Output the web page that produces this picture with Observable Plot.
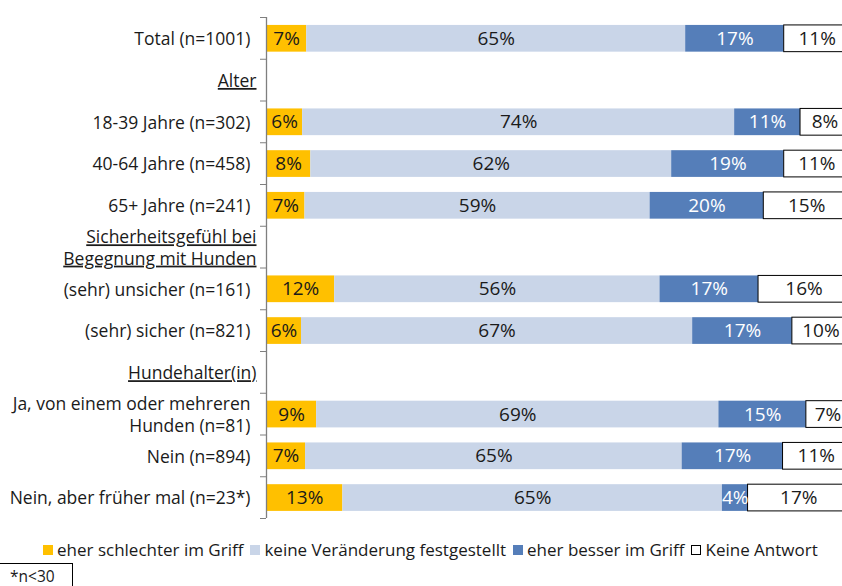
<!DOCTYPE html>
<html><head><meta charset="utf-8">
<script src="https://cdn.jsdelivr.net/npm/d3@7"></script>
<script src="https://cdn.jsdelivr.net/npm/@observablehq/plot@0.6"></script>
<style>
body{margin:0;background:#fff;font-family:"Open Sans",sans-serif;width:842px;height:586px;overflow:hidden;position:relative;color:#1a1a1a}
#chart{position:absolute;left:0;top:0}
#legend{position:absolute;left:43px;top:539px;display:flex;align-items:center;font-size:17px;white-space:nowrap;line-height:22px}
.item{display:flex;align-items:center;margin-right:7px}
.sw{display:inline-block;width:10px;height:10px;margin-right:4px;box-sizing:border-box}
#note{position:absolute;left:-1px;top:563px;width:62px;height:30px;border:1px solid #000;padding-left:10px;font-size:15.5px;line-height:24px}
</style>
</head><body>
<div id="chart"></div>
<div id="legend"></div>
<div id="note">*n&lt;30</div>
<script>
const categories = [
  "Total (n=1001)", "Alter", "18-39 Jahre (n=302)", "40-64 Jahre (n=458)", "65+ Jahre (n=241)",
  "Sicherheitsgefühl bei\nBegegnung mit Hunden", "(sehr) unsicher (n=161)", "(sehr) sicher (n=821)",
  "Hundehalter(in)", "Ja, von einem oder mehreren\nHunden (n=81)", "Nein (n=894)", "Nein, aber früher mal (n=23*)"
];
const headers = ["Alter", "Sicherheitsgefühl bei\nBegegnung mit Hunden", "Hundehalter(in)"];
const series = ["eher schlechter im Griff", "keine Veränderung festgestellt", "eher besser im Griff", "Keine Antwort"];
const colors = ["#FFC000", "#C9D5E8", "#557EB9", "#FFFFFF"];
const schlechter   = [6.9, null, 6.2, 7.6, 6.6, null, 11.7, 6.0, null, 8.6, 6.7, 13.1];
const keine        = [65.0, null, 74.1, 61.9, 59.2, null, 55.8, 67.1, null, 69.0, 64.6, 65.1];
const besser       = [16.9, null, 11.3, 19.3, 19.5, null, 16.9, 17.1, null, 15.0, 17.3, 4.4];
const keineAntwort = [11.3, null, 8.4, 11.2, 14.7, null, 15.6, 9.8, null, 7.4, 11.4, 17.4];

const valueLists = [schlechter, keine, besser, keineAntwort];
const table = [];
categories.forEach((c, i) => {
  let acc = 0;
  valueLists.forEach((vals, s) => {
    const v = vals[i];
    if (v == null) return;
    table.push({cat: c, i, series: series[s], value: v, x1: acc, x2: acc + v});
    acc += v;
  });
});
const rows = categories.map((c, i) => ({cat: c, i, header: headers.includes(c)}));

const plot = Plot.plot({
  width: 842, height: 530,
  marginLeft: 266, marginRight: 0, marginTop: 17, marginBottom: 12,
  x: {domain: [0, 100], range: [266, 849], axis: null},
  y: {domain: [0, 12], range: [17, 518]},
  color: {domain: series, range: colors},
  style: {fontFamily: "Open Sans", fontSize: "17.5px", color: "#1a1a1a", background: "transparent"},
  marks: [
    Plot.rect(table, {x1: "x1", x2: "x2", y1: d => d.i + 0.19, y2: d => d.i + 0.83, fill: "series"}),
    Plot.rect(table, {filter: d => d.series === series[3], x1: "x1", x2: "x2", y1: d => d.i + 0.19, y2: d => d.i + 0.83, fill: "none", stroke: "#000", strokeWidth: 1}),
    Plot.text(table, {filter: d => d.series !== series[2], x: d => (d.x1 + d.x2) / 2, y: d => d.i + 0.51, text: d => Math.round(d.value) + "%", fill: "#1a1a1a", fontSize: 19}),
    Plot.text(table, {filter: d => d.series === series[2], x: d => (d.x1 + d.x2) / 2, y: d => d.i + 0.51, text: d => Math.round(d.value) + "%", fill: "#ffffff", fontSize: 19}),
    Plot.ruleX([0], {stroke: "#7f7f7f", strokeWidth: 1.3}),
    Plot.axisY({ticks: d3.range(13), tickFormat: () => "", tickSize: 6, stroke: "#7f7f7f", strokeOpacity: 1}),
    Plot.text(rows, {filter: d => !d.header, frameAnchor: "left", y: d => d.i + 0.5, text: "cat", textAnchor: "end", dx: -16, lineHeight: 1.22, fill: "#1a1a1a"}),
    Plot.text(rows, {filter: d => d.header, frameAnchor: "left", y: d => d.i + 0.5, text: "cat", textAnchor: "end", dx: -10, lineHeight: 1.22, fill: "#1a1a1a"})
  ]
});
const headerFlat = new Set(headers.map(h => h.replace("\n", "")));
d3.select(plot).selectAll("text").each(function() {
  if (headerFlat.has(this.textContent)) this.style.textDecoration = "underline";
});
document.getElementById("chart").appendChild(plot);

const legend = document.getElementById("legend");
series.forEach((s, k) => {
  const item = document.createElement("div");
  item.className = "item";
  const sw = document.createElement("span");
  sw.className = "sw";
  sw.style.background = colors[k];
  if (k === 3) sw.style.border = "1px solid #000";
  item.appendChild(sw);
  item.appendChild(document.createTextNode(s));
  legend.appendChild(item);
});
</script>
</body></html>
